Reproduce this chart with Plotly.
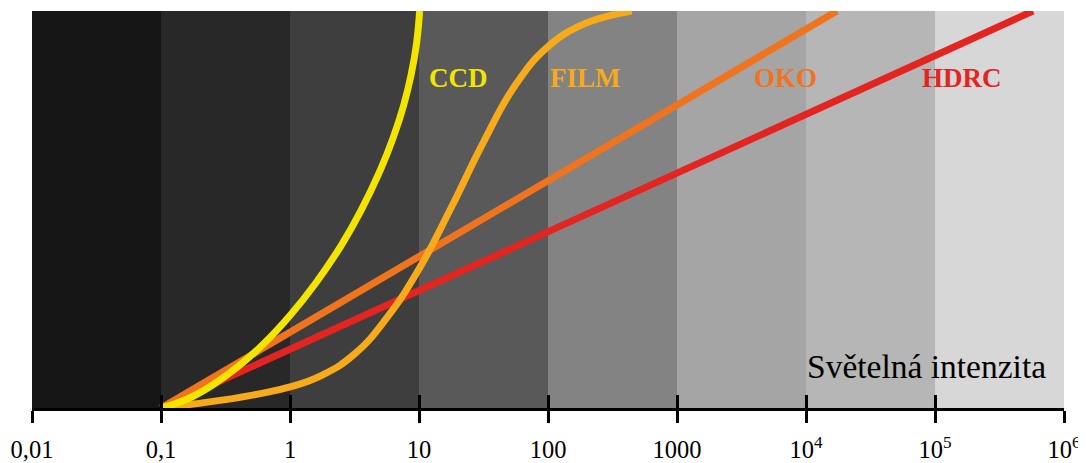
import numpy as np
import plotly.graph_objects as go

# decade edges of the light-intensity axis
decades = [0.01, 0.1, 1, 10, 100, 1000, 1e4, 1e5, 1e6]
tick_text = ["0,01", "0,1", "1", "10", "100", "1000",
             "10<sup>4</sup>", "10<sup>5</sup>", "10<sup>6</sup>"]
band_colors = ["#161616", "#282828", "#3e3e3e", "#595959",
               "#838383", "#a5a5a5", "#b6b6b6", "#d7d7d7"]

# response curves: x as log10(intensity), y as response (0-100)
ccd_logx = [-1.0, -0.8, -0.6, -0.4, -0.2, 0.0, 0.2, 0.4,
            0.55, 0.7, 0.8, 0.88, 0.94, 0.98, 1.005]
ccd_y = [0, 2.2, 5.8, 10.5, 16.3, 23.3, 31.5, 41.1,
         49.7, 59.9, 68.1, 76.1, 84.1, 91.6, 100]

film_logx = [-1.0, -0.75, -0.5, -0.25, 0.0, 0.25, 0.5, 0.75, 1.0,
             1.25, 1.5, 1.75, 2.0, 2.25, 2.5, 2.65]
film_y = [0, 1.0, 2.1, 3.5, 5.3, 8.3, 13.6, 22.7, 35.0,
          50.5, 67.0, 81.5, 91.0, 96.3, 99.0, 100]

oko_logx = [-1.0, 4.24]
oko_y = [0, 100]

hdrc_logx = [-1.0, 5.76]
hdrc_y = [0, 100]

labels = ["CCD", "FILM", "OKO", "HDRC"]
colors = ["#f3e500", "#f7aa1a", "#f0731e", "#e42421"]

fig = go.Figure()

# background bands, one per decade (base x axis, drawn first)
for i, col in enumerate(band_colors):
    lo, hi = decades[i], decades[i + 1]
    fig.add_trace(go.Scatter(
        x=[lo, hi, hi, lo, lo], y=[0, 0, 100, 100, 0],
        mode="lines", fill="toself", fillcolor=col,
        line=dict(width=0, color=col), hoverinfo="skip", showlegend=False,
        xaxis="x"))

series = [
    (hdrc_logx, hdrc_y, colors[3], "linear"),
    (oko_logx, oko_y, colors[2], "linear"),
    (film_logx, film_y, colors[1], "spline"),
    (ccd_logx, ccd_y, colors[0], "spline"),
]
for lx, yy, col, shape in series:
    fig.add_trace(go.Scatter(
        x=np.power(10.0, lx), y=yy, mode="lines",
        line=dict(color=col, width=7, shape=shape, smoothing=1.3),
        showlegend=False, hoverinfo="skip", xaxis="x2"))

# page has an 8px body margin; figure coordinates are offset by it
OFF = 8
W, H = 1086 - OFF, 463 - OFF
L, R, T, B = 32 - OFF, 22, 11 - OFF, 55
pw, ph = W - L - R, H - T - B

def px(x):
    return (x - OFF - L) / pw

def py(y):
    return (H - B - (y - OFF)) / ph

label_pos = [(458, 78), (585, 78), (785, 78), (962, 78)]
for txt, col, (lx, ly) in zip(labels, colors, label_pos):
    fig.add_annotation(x=px(lx), y=py(ly), xref="paper", yref="paper",
                       text=f"<b>{txt}</b>", showarrow=False,
                       xanchor="center", yanchor="middle",
                       font=dict(family="Liberation Serif", size=27, color=col))

fig.add_annotation(x=px(1048), y=py(366), xref="paper", yref="paper",
                   text="Světelná intenzita", showarrow=False,
                   xanchor="right", yanchor="middle",
                   font=dict(family="Liberation Serif", size=33.5, color="black"))

axis_common = dict(type="log", range=[-2, 6], tickvals=decades,
                   showgrid=False, zeroline=False, automargin=False,
                   tickwidth=2.5, tickcolor="black")

fig.update_layout(
    width=W, height=H,
    margin=dict(l=L, r=R, t=T, b=B, autoexpand=False),
    paper_bgcolor="white", plot_bgcolor="white",
    xaxis=dict(**axis_common, ticktext=tick_text, ticks="outside", ticklen=12,
               ticklabelstandoff=6,
               showline=True, linewidth=2.5, linecolor="black",
               tickfont=dict(family="Liberation Serif", size=24.5, color="black")),
    xaxis2=dict(**axis_common, overlaying="x", anchor="y", side="bottom",
                ticks="inside", ticklen=13, showticklabels=False, showline=False),
    yaxis=dict(range=[0, 100], visible=False, automargin=False),
    showlegend=False,
)

fig.write_html("out.html")
